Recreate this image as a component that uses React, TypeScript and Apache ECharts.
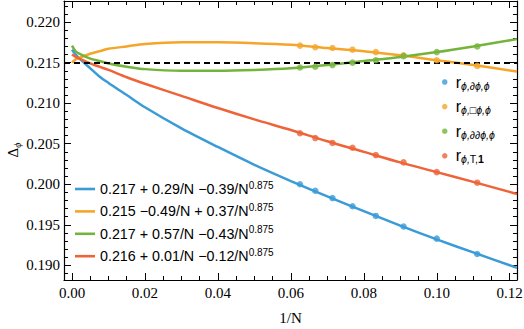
import React, { useEffect, useRef } from "react";
import * as echarts from "echarts";

// ---------- data ----------
const curveX = [0, 0.001, 0.0025, 0.005, 0.0075, 0.01, 0.015, 0.02, 0.03, 0.04, 0.05, 0.06, 0.07, 0.08, 0.09, 0.1, 0.11, 0.122];
const blueCurve = [0.2166, 0.216, 0.2153, 0.2143, 0.2133, 0.2125, 0.211, 0.2095, 0.2069, 0.2046, 0.2024, 0.2004, 0.1985, 0.1967, 0.1949, 0.1932, 0.1916, 0.1897];
const orangeCurve = [0.215, 0.2154, 0.2157, 0.2161, 0.2164, 0.2167, 0.217, 0.2173, 0.2175, 0.2175, 0.2174, 0.2172, 0.2168, 0.2164, 0.2159, 0.2153, 0.2147, 0.2139];
const greenCurve = [0.2171, 0.2164, 0.216, 0.2155, 0.2152, 0.2149, 0.2145, 0.2142, 0.214, 0.214, 0.2141, 0.2143, 0.2147, 0.2152, 0.2157, 0.2163, 0.217, 0.2179];
const redCurve = [0.216, 0.2157, 0.2154, 0.2149, 0.2145, 0.2141, 0.2132, 0.2124, 0.2109, 0.2094, 0.208, 0.2067, 0.2053, 0.204, 0.2027, 0.2015, 0.2003, 0.1988];

const markerX = [0.0625, 0.0667, 0.0714, 0.0769, 0.0833, 0.0909, 0.1, 0.1111];
const blueMarkers = [0.2, 0.1992, 0.1983, 0.1973, 0.1961, 0.1948, 0.1933, 0.1914];
const orangeMarkers = [0.2171, 0.2169, 0.2168, 0.2166, 0.2163, 0.2159, 0.2153, 0.2146];
const greenMarkers = [0.2144, 0.2145, 0.2147, 0.215, 0.2153, 0.2158, 0.2163, 0.217];
const redMarkers = [0.2063, 0.2057, 0.2051, 0.2045, 0.2036, 0.2027, 0.2015, 0.2002];

const fitLabels = ["0.217 + 0.29/N −0.39/N", "0.215 −0.49/N + 0.37/N", "0.217 + 0.57/N −0.43/N", "0.216 + 0.01/N −0.12/N"];
const fitExponent = "0.875";
const pointNames = ["r_dphi", "r_boxphi", "r_ddphi", "r_T1"];
const pointLabels = [
  "{r|r}{s|ϕ,∂ϕ,ϕ}",
  "{r|r}{s|ϕ,□ϕ,ϕ}",
  "{r|r}{s|ϕ,∂∂ϕ,ϕ}",
  "{r|r}{s|ϕ,}{su|T,}{sb|1}",
];
const refLevel = 0.215;

const X_MIN = -0.0022;
const X_MAX = 0.122;
const Y_MIN = 0.1882;
const Y_MAX = 0.2226;

const colors = ["#3A9BD7", "#F5A52A", "#74B43C", "#EE6338"];

const SERIF = "'Liberation Serif', 'Times New Roman', serif";
const SANS = "'Liberation Sans', Arial, sans-serif";

export default function App() {
  const ref = useRef<HTMLDivElement>(null);

  useEffect(() => {
    const chart = echarts.init(ref.current!, null, { renderer: "svg" });

    const curves = [blueCurve, orangeCurve, greenCurve, redCurve];
    const markers = [blueMarkers, orangeMarkers, greenMarkers, redMarkers];

    const tickCommon = {
      axisLine: { onZero: false, lineStyle: { color: "#000", width: 1.2 } },
      axisTick: { inside: true, length: 7, lineStyle: { color: "#000", width: 1 } },
      minorTick: { show: true, length: 4, lineStyle: { color: "#000", width: 1 } },
      splitLine: { show: false },
      minorSplitLine: { show: false },
    };

    const xFmt = (v: number) => {
      const k = v / 0.02;
      return Math.abs(k - Math.round(k)) < 1e-6 ? v.toFixed(2) : "";
    };
    const yFmt = (v: number) => {
      const k = v / 0.005;
      return Math.abs(k - Math.round(k)) < 1e-6 ? v.toFixed(3) : "";
    };

    const xAxisBase = {
      type: "value",
      min: X_MIN,
      max: X_MAX,
      splitNumber: 6,
      ...tickCommon,
      minorTick: { ...tickCommon.minorTick, splitNumber: 4 },
    };
    const yAxisBase = {
      type: "value",
      min: Y_MIN,
      max: Y_MAX,
      splitNumber: 7,
      ...tickCommon,
      minorTick: { ...tickCommon.minorTick, splitNumber: 5 },
    };

    const series: any[] = [];
    curves.forEach((c, i) => {
      const s: any = {
        type: "line",
        name: fitLabels[i],
        data: curveX.map((x, j) => [x, c[j]]),
        smooth: 0.3,
        symbol: "none",
        lineStyle: { width: 2.5, color: colors[i] },
        itemStyle: { color: colors[i] },
        z: 2,
      };
      if (i === 0) {
        s.markLine = {
          silent: true,
          precision: 5,
          symbol: ["none", "none"],
          label: { show: false },
          lineStyle: { type: [6, 4], color: "#000", width: 2 },
          data: [{ yAxis: refLevel }],
          z: 3,
        };
      }
      series.push(s);
    });
    markers.forEach((m, i) => {
      series.push({
        type: "scatter",
        name: pointNames[i],
        data: markerX.map((x, j) => [x, m[j]]),
        symbol: "circle",
        symbolSize: 6.5,
        itemStyle: { color: colors[i] },
        z: 4,
      });
    });

    const option: any = {
      animation: false,
      backgroundColor: "#fff",
      grid: { left: 64, right: 7, top: 1, bottom: 49, containLabel: false, outerBoundsMode: "none" },
      xAxis: [
        {
          ...xAxisBase,
          position: "bottom",
          axisLabel: {
            fontFamily: SERIF,
            fontSize: 15,
            color: "#000",
            margin: 5,
            showMinLabel: false,
            showMaxLabel: false,
            formatter: xFmt,
          },
          name: "1/N",
          nameLocation: "middle",
          nameGap: 30,
          nameTextStyle: { fontFamily: SERIF, fontSize: 15, color: "#000" },
        },
        {
          ...xAxisBase,
          position: "top",
          axisLabel: { show: false },
        },
      ],
      yAxis: [
        {
          ...yAxisBase,
          position: "left",
          axisLabel: {
            fontFamily: SERIF,
            fontSize: 15,
            color: "#000",
            margin: 4,
            showMinLabel: false,
            showMaxLabel: false,
            formatter: yFmt,
          },
        },
        {
          ...yAxisBase,
          position: "right",
          axisLabel: { show: false },
        },
      ],
      legend: [
        {
          data: fitLabels,
          orient: "vertical",
          left: 75,
          top: 180,
          padding: 0,
          icon: "rect",
          itemWidth: 20,
          itemHeight: 2.6,
          itemGap: 6.4,
          selectedMode: false,
          formatter: (name: string) => `{a|${name}}{sup|${fitExponent}}`,
          textStyle: {
            color: "#000",
            rich: {
              a: { fontFamily: SANS, fontSize: 14.3, lineHeight: 18, color: "#000" },
              sup: { fontFamily: SANS, fontSize: 10, lineHeight: 11, verticalAlign: "top", color: "#000" },
            },
          },
        },
        {
          data: pointNames,
          orient: "vertical",
          left: 442,
          top: 74,
          padding: 0,
          itemWidth: 12,
          itemHeight: 5.5,
          itemGap: 7.6,
          icon: "circle",
          selectedMode: false,
          formatter: (name: string) => pointLabels[pointNames.indexOf(name)],
          textStyle: {
            color: "#000",
            rich: {
              r: { fontFamily: SANS, fontSize: 16, lineHeight: 18, color: "#000" },
              s: { fontFamily: SANS, fontSize: 10.5, lineHeight: 12, verticalAlign: "bottom", fontStyle: "italic", color: "#000" },
              su: { fontFamily: SANS, fontSize: 10.5, lineHeight: 12, verticalAlign: "bottom", color: "#000" },
              sb: { fontFamily: SANS, fontSize: 10.5, lineHeight: 12, verticalAlign: "bottom", fontWeight: "bold", color: "#000" },
            },
          },
        },
      ],
      graphic: [
        {
          type: "text",
          x: 13,
          y: 150,
          rotation: Math.PI / 2,
          style: {
            text: "{d|Δ}{s|ϕ}",
            textAlign: "center",
            textVerticalAlign: "middle",
            fill: "#000",
            rich: {
              d: { fontFamily: SERIF, fontSize: 15, lineHeight: 18, fill: "#000" },
              s: { fontFamily: SERIF, fontSize: 10, lineHeight: 12, verticalAlign: "bottom", fontStyle: "italic", fill: "#000" },
            },
          },
        },
      ],
      series,
    };

    chart.setOption(option);
    return () => chart.dispose();
  }, []);

  return (
    <div
      ref={ref}
      style={{ position: "absolute", left: 0, top: 0, width: 524, height: 329 }}
    />
  );
}
